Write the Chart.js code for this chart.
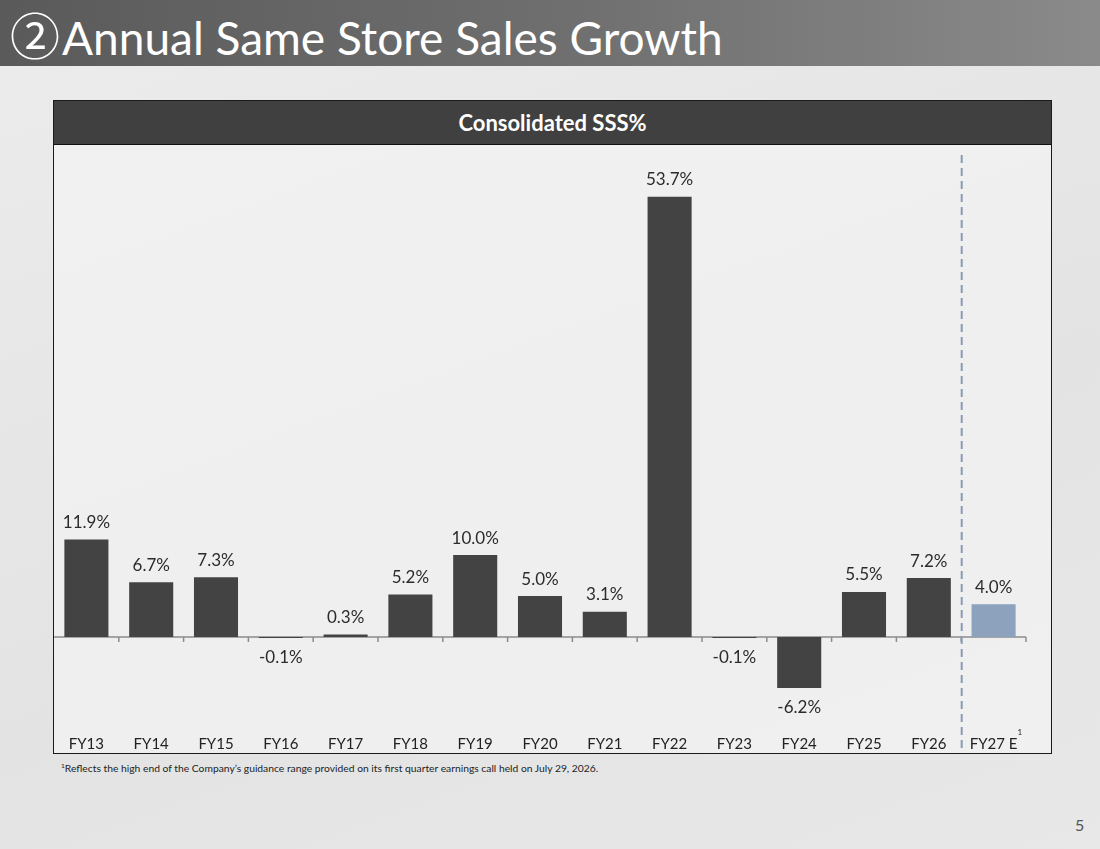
<!DOCTYPE html>
<html>
<head>
<meta charset="utf-8">
<script src="https://cdn.jsdelivr.net/npm/chart.js@4.4.1/dist/chart.umd.min.js"></script>
<style>
  html, body { margin: 0; padding: 0; }
  body {
    width: 1100px; height: 849px; position: relative; overflow: hidden;
    background: linear-gradient(160deg, #ececec 0%, #e3e3e3 60%, #e8e8e8 100%);
    font-family: Lato, "Open Sans", sans-serif;
  }
  #titlebar {
    position: absolute; left: 0; top: 0; width: 1100px; height: 66px;
    background: linear-gradient(90deg, #5a5a5a 0%, #6e6e6e 50%, #8a8a8a 100%);
  }
  #title {
    position: absolute; left: 10px; top: 5px; color: #fff;
    font-size: 46px; line-height: 56px; white-space: nowrap;
  }
  #title .num { font-family: "Noto Sans CJK JP", sans-serif; font-size: 50px; margin-right: 2px; }
  #box {
    position: absolute; left: 53px; top: 100px; width: 997px; height: 652px;
    border: 1.5px solid #1a1a1a; background: rgba(244,244,244,0.7);
  }
  #header {
    position: absolute; left: 0; top: 0; width: 100%; height: 43px;
    background: #404040; border-bottom: 1.5px solid #111;
    color: #fff; font-weight: bold; font-size: 22px; text-align: center; line-height: 44px;
  }
  #wrap { position: absolute; left: 54px; top: 145px; width: 996px; height: 607px; }
  #note { position: absolute; left: 61px; top: 762px; font-size: 10.3px; color: #222; white-space: nowrap; }
  #page { position: absolute; left: 1075px; top: 815px; font-size: 16px; color: #555; }
</style>
</head>
<body>
<div id="titlebar"><div id="title"><span class="num">②</span>Annual Same Store Sales Growth</div></div>
<div id="box"><div id="header">Consolidated SSS%</div></div>
<div id="wrap"><canvas id="sss"></canvas></div>
<div id="note"><sup style="font-size:6.5px">1</sup>Reflects the high end of the Company’s guidance range provided on its first quarter earnings call held on July 29, 2026.</div>
<div id="page">5</div>
<script>
const years = ["FY13", "FY14", "FY15", "FY16", "FY17", "FY18", "FY19", "FY20", "FY21", "FY22", "FY23", "FY24", "FY25", "FY26", "FY27 E"];
const sss = [11.9, 6.7, 7.3, -0.1, 0.3, 5.2, 10.0, 5.0, 3.1, 53.7, -0.1, -6.2, 5.5, 7.2, 4.0];
const barColors = years.map((y, k) => k === years.length - 1 ? "#8da2bd" : "#434343");
const yMin = -12, yMax = 60;

const fontFam = "Lato, 'Open Sans', sans-serif";
const tickSize = 15;

// zero line with little ticks between categories, dashed divider, labels
const extras = {
  id: "extras",
  beforeDatasetsDraw(chart) {
    const { ctx, scales: { x, y }, chartArea } = chart;
    const y0 = y.getPixelForValue(0);
    const step = (chartArea.right - chartArea.left) / years.length;
    ctx.save();
    ctx.strokeStyle = "#8c8c8c";
    ctx.lineWidth = 1.5;
    ctx.beginPath();
    ctx.moveTo(chartArea.left, y0);
    ctx.lineTo(chartArea.right, y0);
    for (let k = 1; k <= years.length; k++) {
      const px = chartArea.left + k * step;
      ctx.moveTo(px, y0);
      ctx.lineTo(px, y0 + 5);
    }
    ctx.stroke();
    ctx.restore();
  },
  afterDatasetsDraw(chart) {
    const { ctx, scales: { x, y }, chartArea } = chart;
    const meta = chart.getDatasetMeta(0);
    const y0 = y.getPixelForValue(0);
    ctx.save();
    ctx.font = "17px " + fontFam;
    ctx.fillStyle = "#2b2b2b";
    ctx.textAlign = "center";
    ctx.textBaseline = "middle";
    meta.data.forEach((bar, k) => {
      const v = sss[k];
      const txt = v.toFixed(1) + "%";
      if (v >= 0) ctx.fillText(txt, bar.x, bar.y - 17);
      else ctx.fillText(txt, bar.x, Math.max(bar.y, y0) + 20);
    });
    // divider before the estimate
    const step = (chartArea.right - chartArea.left) / years.length;
    const dx = chartArea.left + (years.length - 1) * step + 0.5;
    ctx.strokeStyle = "#8a9bb4";
    ctx.lineWidth = 2;
    ctx.setLineDash([8, 5]);
    ctx.beginPath();
    ctx.moveTo(dx, 10);
    ctx.lineTo(dx, chart.height);
    ctx.stroke();
    ctx.setLineDash([]);
    // footnote marker on the last tick label
    const lx = x.getPixelForValue(years.length - 1);
    ctx.font = tickSize + "px " + fontFam;
    const w = ctx.measureText(years[years.length - 1]).width;
    ctx.font = "8px " + fontFam;
    ctx.fillStyle = "#222";
    ctx.textAlign = "left";
    ctx.fillText("1", lx + w / 2, chartArea.bottom - 3);
    ctx.restore();
  }
};

new Chart(document.getElementById("sss"), {
  type: "bar",
  data: {
    labels: years,
    datasets: [{
      data: sss,
      backgroundColor: barColors,
      barPercentage: 0.68,
      categoryPercentage: 1
    }]
  },
  options: {
    responsive: true,
    maintainAspectRatio: false,
    animation: false,
    layout: { padding: { left: 0, right: 24, top: 0, bottom: 0 } },
    plugins: { legend: { display: false }, tooltip: { enabled: false } },
    scales: {
      x: {
        grid: { display: false, drawTicks: false },
        border: { display: false },
        ticks: { color: "#222", font: { family: fontFam, size: tickSize }, padding: 0, maxRotation: 0 },
        afterFit(scale) { scale.height = 16.5; }
      },
      y: { display: false, min: yMin, max: yMax }
    }
  },
  plugins: [extras]
});
</script>
</body>
</html>
